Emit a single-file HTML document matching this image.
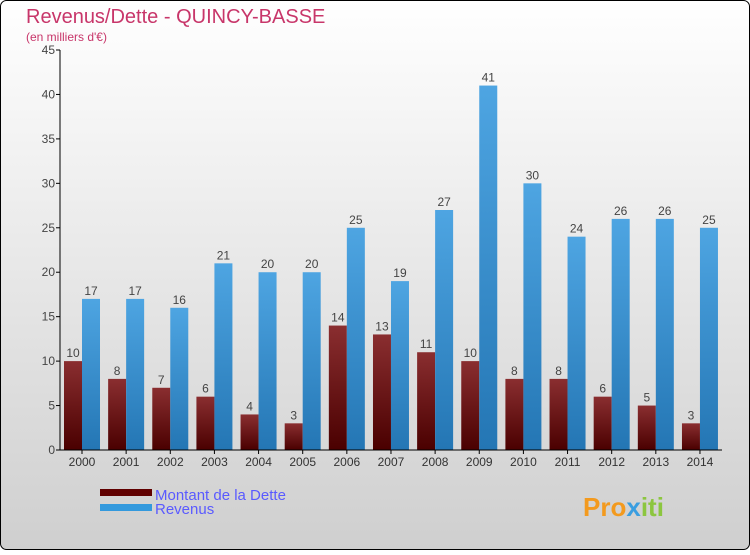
<!DOCTYPE html>
<html><head><meta charset="utf-8"><style>
body{margin:0;width:750px;height:550px;overflow:hidden}
svg text{font-family:"Liberation Sans",sans-serif}
</style></head><body>
<svg width="750" height="550">
<defs>
<linearGradient id="bg" x1="0" y1="0" x2="0" y2="1"><stop offset="0" stop-color="#ffffff"/><stop offset="1" stop-color="#cfcfcf"/></linearGradient>
<linearGradient id="gd" x1="0" y1="0" x2="0" y2="1"><stop offset="0" stop-color="#8a2e30"/><stop offset="1" stop-color="#4a0000"/></linearGradient>
<linearGradient id="gr" x1="0" y1="0" x2="0" y2="1"><stop offset="0" stop-color="#4ea5e2"/><stop offset="1" stop-color="#2476b4"/></linearGradient>
</defs>
<rect x="0.5" y="0.5" width="749" height="549" rx="6" fill="url(#bg)" stroke="#000"/>
<text x="26" y="23" font-size="20" fill="#c8366a">Revenus/Dette - QUINCY-BASSE</text>
<text x="26" y="41" font-size="12" fill="#c8366a">(en milliers d'€)</text>
<g id="plot"></g>
<g>
<rect x="100" y="489" width="52" height="7" fill="#600000"/>
<text x="155" y="500" font-size="15" fill="#5a5aff">Montant de la Dette</text>
<rect x="100" y="504" width="52" height="7" fill="#3399dd"/>
<text x="155" y="514" font-size="15" fill="#5a5aff">Revenus</text>
</g>
<text x="583" y="516" font-size="26" font-weight="bold" fill="#f39a1e">Pro<tspan fill="#3a9ee0">x</tspan><tspan fill="#8cc63f">iti</tspan></text>
</svg>
<script>
const years=["2000","2001","2002","2003","2004","2005","2006","2007","2008","2009","2010","2011","2012","2013","2014"];
const dette=[10,8,7,6,4,3,14,13,11,10,8,8,6,5,3];
const revenus=[17,17,16,21,20,20,25,19,27,41,30,24,26,26,25];
const ticks=[0,5,10,15,20,25,30,35,40,45];
const NS="http://www.w3.org/2000/svg";
const g=document.getElementById('plot');
const y0=450,pxu=400/45,x0=82,step=44.14,bw=18;
const Y=v=>y0-v*pxu, X=i=>x0+i*step;
function mk(t,a,txt){const e=document.createElementNS(NS,t);for(const k in a)e.setAttribute(k,a[k]);if(txt!==undefined)e.textContent=txt;g.appendChild(e);return e;}
ticks.forEach(t=>{
 const l=mk('line',{x1:56,x2:60,y1:Y(t),y2:Y(t),stroke:'#000'});
 
 
 const tx=mk('text',{x:55,y:Y(t)+4,'font-size':12,fill:'#444','text-anchor':'end'},t);
 
 
});
years.forEach((yr,i)=>{
 const cx=X(i);
 const b1=mk('rect',{x:cx-bw,y:Y(dette[i]),width:bw,height:dette[i]*pxu,fill:'url(#gd)'});
 
 
 const b2=mk('rect',{x:cx,y:Y(revenus[i]),width:bw,height:revenus[i]*pxu,fill:'url(#gr)'});
 
 
 const t1=mk('text',{x:cx-bw/2,y:Y(dette[i])-4,'font-size':12,fill:'#444','text-anchor':'middle'},dette[i]);
 
 
 const t2=mk('text',{x:cx+bw/2,y:Y(revenus[i])-4,'font-size':12,fill:'#444','text-anchor':'middle'},revenus[i]);
 
 
 const tk=mk('line',{x1:cx,x2:cx,y1:450,y2:454,stroke:'#000'});
 
 
 const xl=mk('text',{x:cx,y:466,'font-size':12,fill:'#333','text-anchor':'middle'},yr);
 
 
});
const ya=mk('line',{x1:60,x2:60,y1:50,y2:450,stroke:'#000'});


const xa=mk('line',{x1:60,x2:722,y1:450,y2:450,stroke:'#000'});


</script>
</body></html>
